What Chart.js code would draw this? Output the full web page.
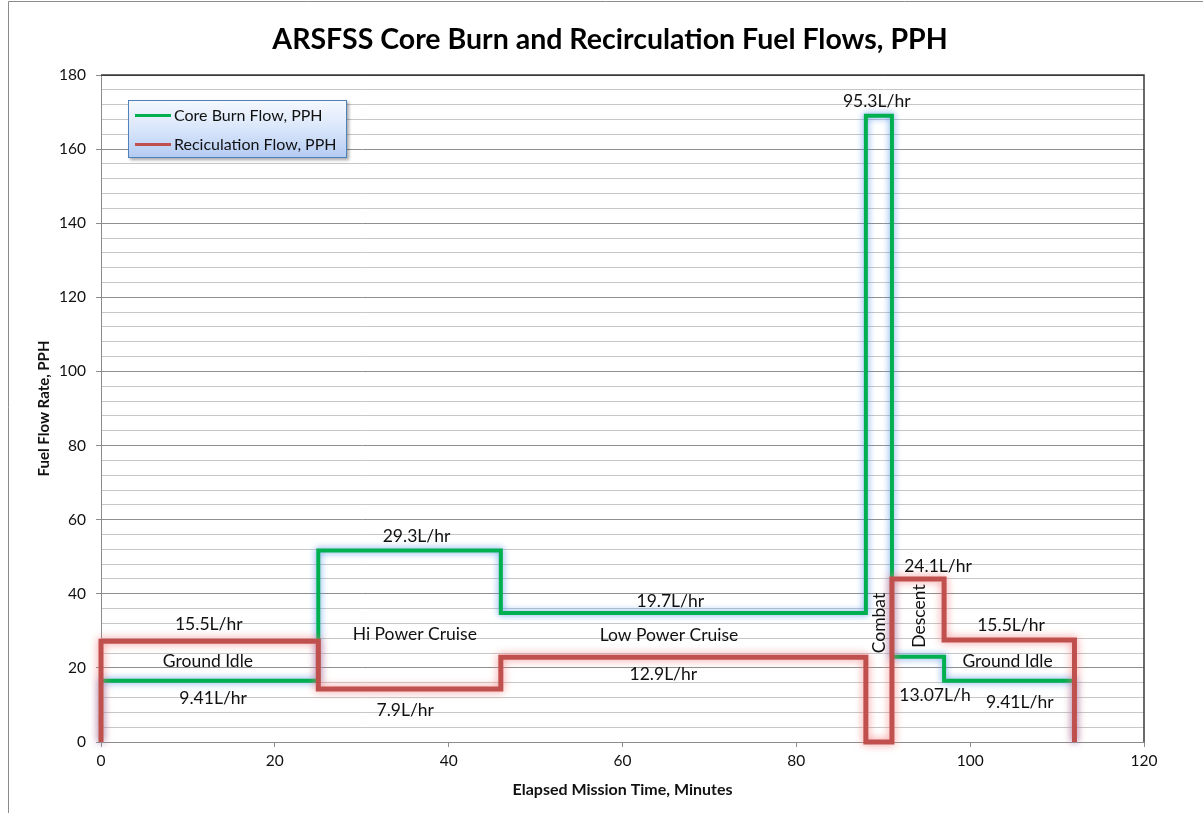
<!DOCTYPE html>
<html>
<head>
<meta charset="utf-8">
<script src="https://cdn.jsdelivr.net/npm/chart.js@4.4.1/dist/chart.umd.min.js"></script>
<style>
  html, body { margin: 0; padding: 0; background: #fff; }
  #wrap { position: relative; width: 1203px; height: 813px; }
  #legend {
    position: absolute; left: 128px; top: 100px; width: 217px; height: 56px;
    border: 1px solid #4f81bd;
    background: linear-gradient(to bottom, #f4f8fe 0%, #d6e4fa 55%, #b4cbf2 100%);
    box-shadow: 2px 2px 3px rgba(0,0,0,0.35);
    font-family: Lato, "Open Sans", sans-serif; font-size: 16px; color: #111;
  }
  .row { position: absolute; left: 6px; height: 20px; line-height: 20px; white-space: nowrap; }
  .swatch { display: inline-block; width: 36px; height: 3px; vertical-align: middle; margin-right: 3px; position: relative; top: -1px; }
</style>
</head>
<body>
<div id="wrap">
  <canvas id="c" width="1203" height="813"></canvas>
  <div id="legend">
    <div class="row" style="top:4px"><span class="swatch" style="background:#00b050"></span>Core Burn Flow, PPH</div>
    <div class="row" style="top:33px"><span class="swatch" style="background:#c0504d"></span>Reciculation Flow, PPH</div>
  </div>
</div>
<script>
// ---- data ----
const phaseStartMin = [0, 25, 46, 88, 91, 97, 112];           // phase boundaries, minutes
const coreBurnPPH   = [16.5, 51.7, 34.8, 169, 23, 16.5];       // level during each phase
const recircPPH     = [27.2, 14.3, 22.9, 0, 44, 27.5];         // level during each phase
const seriesNames   = ['Core Burn Flow, PPH', 'Reciculation Flow, PPH'];
const yTickValues   = [0, 20, 40, 60, 80, 100, 120, 140, 160, 180];
const xTickValues   = [0, 20, 40, 60, 80, 100, 120];
const titleText     = 'ARSFSS Core Burn and Recirculation Fuel Flows, PPH';
const xTitle        = 'Elapsed Mission Time, Minutes';
const yTitle        = 'Fuel Flow Rate, PPH';
// annotation texts with anchor in data units (minutes, PPH)
const noteText = ['15.5L/hr','Ground Idle','9.41L/hr','29.3L/hr','Hi Power Cruise','7.9L/hr',
                  '19.7L/hr','Low Power Cruise','12.9L/hr','95.3L/hr','Combat','Descent',
                  '24.1L/hr','15.5L/hr','Ground Idle','13.07L/h','9.41L/hr'];
const noteX    = [12.4, 12.3, 12.9, 36.3, 36.1, 35.0, 65.5, 65.35, 64.7, 89.25, 89.5, 94.1, 96.3, 104.7, 104.3, 95.95, 105.7];
const noteY    = [31.8, 21.7, 11.8, 55.4, 29.1, 8.45, 38.0, 28.9, 18.35, 172.8, 32.1, 34.0, 47.5, 31.6, 21.7, 12.7, 10.7];
const noteRot  = [0,0,0,0,0,0,0,0,0,0,-90,-90,0,0,0,0,0];

function stepPoints(levels) {
  const pts = [{x: phaseStartMin[0], y: 0}];
  levels.forEach((v, i) => pts.push({x: phaseStartMin[i], y: v}));
  pts.push({x: phaseStartMin[phaseStartMin.length - 1], y: 0});
  return pts;
}

const FONT = 'Lato, "Open Sans", sans-serif';

const deco = {
  id: 'deco',
  beforeDraw(chart) {
    const ctx = chart.ctx;
    ctx.save();
    ctx.fillStyle = '#fff';
    ctx.fillRect(0, 0, chart.width, chart.height);
    ctx.strokeStyle = '#8c8c8c';
    ctx.lineWidth = 1;
    ctx.beginPath();
    ctx.moveTo(8.5, chart.height);
    ctx.lineTo(8.5, 1.5);
    ctx.lineTo(chart.width, 1.5);
    ctx.stroke();
    ctx.restore();
  },
  beforeDatasetsDraw(chart) {
    const ctx = chart.ctx, a = chart.chartArea;
    ctx.save();
    ctx.strokeStyle = '#3a3a3a';
    ctx.lineWidth = 1.5;
    ctx.beginPath();
    ctx.moveTo(a.left, a.top);
    ctx.lineTo(a.right, a.top);
    ctx.lineTo(a.right, a.bottom);
    ctx.stroke();
    ctx.restore();
  },
  beforeDatasetDraw(chart, args) {
    const ctx = chart.ctx;
    const ds = chart.data.datasets[args.index];
    ctx.save();
    ctx.shadowColor = ds.glowColor;
    ctx.shadowBlur = ds.glowBlur;
    ctx.shadowOffsetX = 0;
    ctx.shadowOffsetY = 0;
  },
  afterDatasetDraw(chart) {
    chart.ctx.restore();
  },
  afterDatasetsDraw(chart) {
    const ctx = chart.ctx, xs = chart.scales.x, ys = chart.scales.y;
    ctx.save();
    ctx.fillStyle = '#111';
    ctx.font = '17.5px ' + FONT;
    ctx.textAlign = 'center';
    ctx.textBaseline = 'middle';
    noteText.forEach((t, i) => {
      const px = xs.getPixelForValue(noteX[i]);
      const py = ys.getPixelForValue(noteY[i]);
      ctx.save();
      ctx.translate(px, py);
      ctx.rotate(noteRot[i] * Math.PI / 180);
      ctx.fillText(t, 0, 0);
      ctx.restore();
    });
    ctx.restore();
  },
  afterDraw(chart) {
    const ctx = chart.ctx;
    ctx.save();
    ctx.fillStyle = '#000';
    ctx.font = 'bold 28.5px ' + FONT;
    ctx.textAlign = 'center';
    ctx.textBaseline = 'middle';
    ctx.fillText(titleText, 610, 40);
    ctx.restore();
  }
};

new Chart(document.getElementById('c'), {
  type: 'line',
  data: {
    datasets: [
      {
        label: seriesNames[0],
        data: stepPoints(coreBurnPPH),
        borderColor: '#00b050',
        borderWidth: 4,
        stepped: 'before',
        pointRadius: 0,
        fill: false,
        order: 1,
        clip: false,
        borderJoinStyle: 'miter',
        glowColor: 'rgba(80,145,235,0.9)',
        glowBlur: 7
      },
      {
        label: seriesNames[1],
        data: stepPoints(recircPPH),
        borderColor: '#c0504d',
        borderWidth: 5,
        stepped: 'before',
        pointRadius: 0,
        fill: false,
        order: 0,
        clip: false,
        borderJoinStyle: 'miter',
        glowColor: 'rgba(245,120,120,0.85)',
        glowBlur: 8
      }
    ]
  },
  options: {
    responsive: false,
    animation: false,
    events: [],
    layout: { padding: { left: 0, top: 75, right: 59, bottom: 0 } },
    plugins: { legend: { display: false }, title: { display: false }, tooltip: { enabled: false } },
    scales: {
      x: {
        type: 'linear', min: 0, max: 120,
        afterFit: s => { s.height = 71; },
        afterBuildTicks: s => { s.ticks = xTickValues.map(v => ({ value: v })); },
        ticks: { font: { family: FONT, size: 15.5 }, color: '#111', padding: 5, maxRotation: 0, autoSkip: false },
        grid: { drawOnChartArea: false, tickLength: 5, tickColor: '#8c8c8c' },
        border: { color: '#8c8c8c', width: 1 },
        title: { display: true, text: xTitle, color: '#111',
                 font: { family: FONT, size: 16, weight: 'bold' }, padding: { top: 0, bottom: 14 } }
      },
      y: {
        type: 'linear', min: 0, max: 180,
        afterFit: s => { s.width = 101; },
        ticks: {
          stepSize: 4, autoSkip: false,
          font: { family: FONT, size: 15.5 }, color: '#111', padding: 10,
          callback: v => (yTickValues.includes(v) ? String(v) : '')
        },
        grid: {
          tickLength: 5,
          color: c => (c.tick && c.tick.value === 180 ? '#3a3a3a' : (c.tick && c.tick.value % 20 === 0 ? '#8f8f8f' : '#c6c6c6')),
          tickColor: c => (c.tick && c.tick.value % 20 === 0 ? '#8c8c8c' : 'rgba(0,0,0,0)')
        },
        border: { color: '#8c8c8c', width: 1 },
        title: { display: true, text: yTitle, color: '#111',
                 font: { family: FONT, size: 15, weight: 'bold' }, padding: { top: 35, bottom: 0 } }
      }
    }
  },
  plugins: [deco]
});
</script>
</body>
</html>
